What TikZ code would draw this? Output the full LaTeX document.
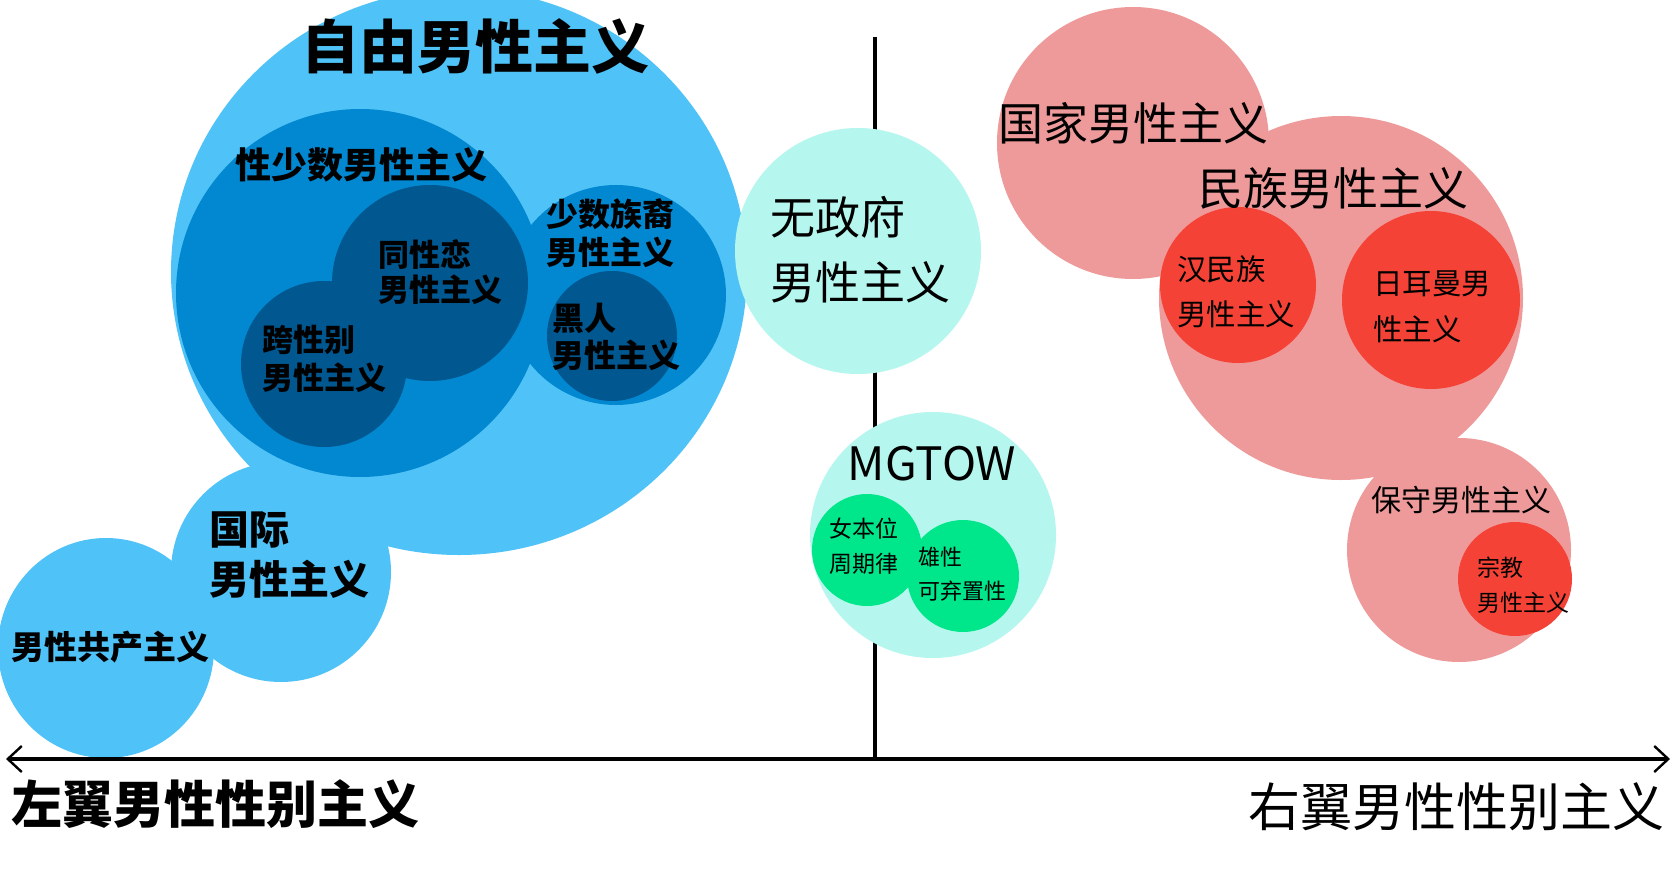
\documentclass[tikz,border=0pt]{standalone}
\usepackage{fontspec}
\usetikzlibrary{arrows.meta}
\newfontfamily\cjk{Noto Sans CJK SC}
\definecolor{lblue}{HTML}{4FC3F7}
\definecolor{mblue}{HTML}{0288D1}
\definecolor{dblue}{HTML}{01578F}
\definecolor{mint}{HTML}{B5F7EE}
\definecolor{mgreen}{HTML}{00E68A}
\definecolor{salmon}{HTML}{EF9A9A}
\definecolor{bred}{HTML}{F44336}
\begin{document}
\begin{tikzpicture}[x=0.5pt,y=-0.5pt,
  hand/.style n args={2}{font=\cjk\bfseries\fontsize{#1}{#2}\selectfont, inner sep=0pt, align=left, text=black},
  plain/.style n args={2}{font=\cjk\fontsize{#1}{#2}\selectfont, inner sep=0pt, align=left, text=black},
  axisline/.style={line width=1.6pt, black}]
\useasboundingbox (0,0) rectangle (1676,889);
\fill[white] (0,0) rectangle (1676,889);
% vertical axis (behind circles)
\coordinate (vtop) at (875,37);
\coordinate (vbot) at (875,759);
\draw[axisline] (vtop) -- (vbot);
% left blue group
\fill[lblue] (459,272) ellipse [x radius=288, y radius=283];
\fill[lblue] (281,572) ellipse [x radius=110, y radius=110];
\fill[lblue] (106,648) ellipse [x radius=108, y radius=110];
\fill[mblue] (360,293) ellipse [x radius=184, y radius=184];
\fill[mblue] (616,295) ellipse [x radius=110, y radius=110];
\fill[dblue] (430,283) ellipse [x radius=98, y radius=98];
\fill[dblue] (324,364) ellipse [x radius=83, y radius=83];
\fill[dblue] (612,336) ellipse [x radius=65, y radius=65];
% middle group
\fill[mint] (858,251) ellipse [x radius=123, y radius=123];
\fill[mint] (933,535) ellipse [x radius=123, y radius=123];
\fill[mgreen] (867,550) ellipse [x radius=55, y radius=56];
\fill[mgreen] (963,576) ellipse [x radius=56, y radius=56];
% right red group
\fill[salmon] (1133,143) ellipse [x radius=136, y radius=136];
\fill[salmon] (1341,298) ellipse [x radius=182, y radius=182];
\fill[salmon] (1459,550) ellipse [x radius=112, y radius=112];
\fill[bred] (1238,285) ellipse [x radius=78, y radius=78];
\fill[bred] (1431,300) ellipse [x radius=89, y radius=89];
\fill[bred] (1515,579) ellipse [x radius=57, y radius=57];
% horizontal axis
\coordinate (axL) at (6,759);
\coordinate (axR) at (1670,759);
\draw[axisline, {Straight Barb[length=7pt,width=13pt,line width=1.2pt]}-{Straight Barb[length=7pt,width=13pt,line width=1.2pt]}] (axL) -- (axR);
% texts left
\node[hand={29pt}{34pt}] (ziyou) at (475,46) {自由男性主义};
\node[hand={18pt}{22pt}] (xingshao) at (361,165) {性少数男性主义};
\node[hand={15.5pt}{17.5pt}, anchor=west] (tongxing) at (378,272) {同性恋\\男性主义};
\node[hand={15.5pt}{19pt}, anchor=west] (kuaxing) at (262,359) {跨性别\\男性主义};
\node[hand={16pt}{19pt}, anchor=west] (shaoshu) at (546,233) {少数族裔\\男性主义};
\node[hand={16pt}{18.5pt}, anchor=west] (heiren) at (552,337) {黑人\\男性主义};
\node[hand={20pt}{25pt}, anchor=west] (guoji) at (209,555) {国际\\男性主义};
\node[hand={16.5pt}{20pt}] (gongchan) at (110,647) {男性共产主义};
\node[hand={25.5pt}{30pt}, anchor=west] (zuoyi) at (11,804) {左翼男性性别主义};
% middle texts
\node[plain={22.5pt}{32.5pt}, anchor=west] (wuzheng) at (770,250) {无政府\\男性主义};
\node[plain={23pt}{28pt}] (mgtow) at (932,464) {MGTOW};
\node[plain={11.5pt}{17.5pt}, anchor=west] (nvben) at (829,546) {女本位\\周期律};
\node[plain={11pt}{17pt}, anchor=west] (xiongxing) at (918,574) {雄性\\可弃置性};
% right texts
\node[plain={22.5pt}{26pt}] (guojia) at (1133,123) {国家男性主义};
\node[plain={22.5pt}{26pt}] (minzu) at (1333,188) {民族男性主义};
\node[plain={14.75pt}{22.5pt}, anchor=west] (hanminzu) at (1177,292) {汉民族\\男性主义};
\node[plain={14.75pt}{23pt}, anchor=west] (rierman) at (1373,307) {日耳曼男\\性主义};
\node[plain={15pt}{18pt}] (baoshou) at (1461,500) {保守男性主义};
\node[plain={11.5pt}{17.5pt}, anchor=west] (zongjiao) at (1477,585) {宗教\\男性主义};
\node[plain={26pt}{30pt}, anchor=east] (youyi) at (1665,807) {右翼男性性别主义};
\end{tikzpicture}
\end{document}
